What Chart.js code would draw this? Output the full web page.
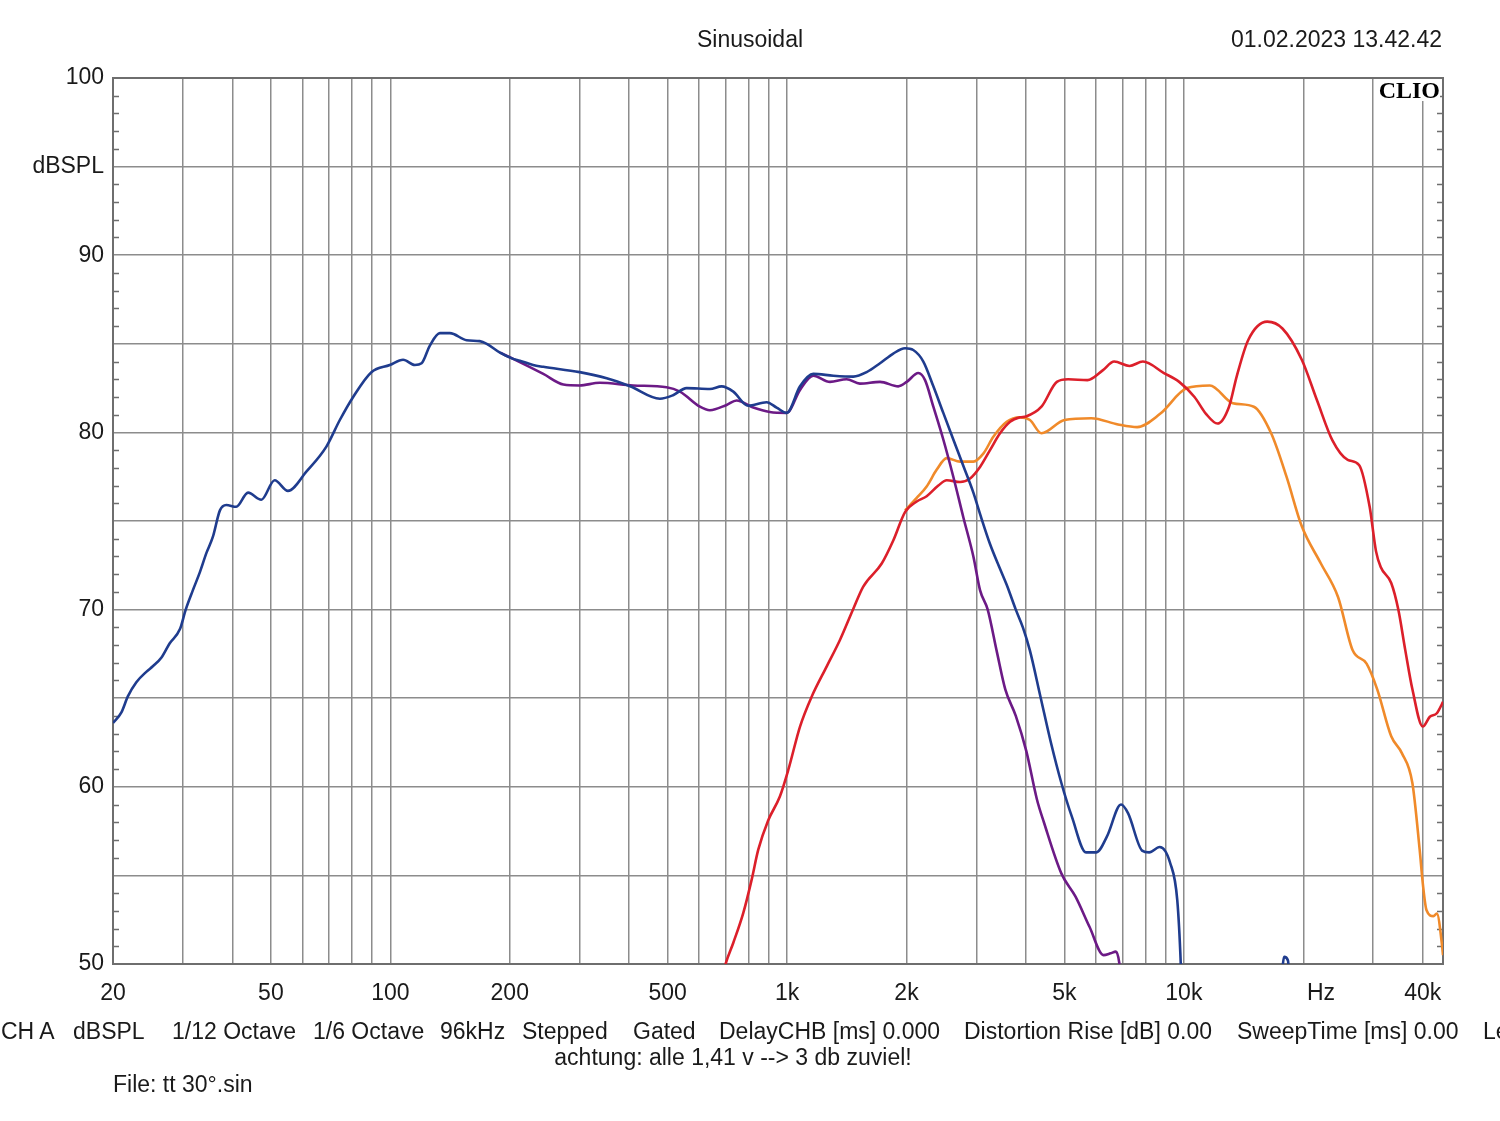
<!DOCTYPE html>
<html>
<head>
<meta charset="utf-8">
<title>Sinusoidal</title>
<script src="https://cdn.jsdelivr.net/npm/chart.js@4/dist/chart.umd.min.js"></script>
<style>
  html, body { margin: 0; padding: 0; background: #fff; }
  body { width: 1500px; height: 1121px; position: relative; overflow: hidden;
         font-family: "Liberation Sans", Arial, sans-serif; color: #1a1a1a; }
  #plot { position: absolute; left: 0; top: 0; }
  .t { position: absolute; font-size: 23px; line-height: 23px; white-space: nowrap; transform: translateY(-50%); }
  .c { transform: translate(-50%, -50%); }
  .r { transform: translate(-100%, -50%); }
  #clio { position: absolute; left: 1376px; top: 79px; width: 64px; height: 22px; background: #fff;
          font-family: "Liberation Serif", "DejaVu Serif", serif; font-weight: bold; font-size: 24px;
          line-height: 22px; text-align: right; color: #000; }
</style>
</head>
<body>
<canvas id="plot" width="1500" height="1121"></canvas>

<!-- header -->
<div class="t c" style="left:750px; top:39px;">Sinusoidal</div>
<div class="t r" style="left:1442px; top:39px;">01.02.2023 13.42.42</div>
<div id="clio">CLIO</div>
<div class="t c" style="left:1321px; top:992px;">Hz</div>

<!-- footer -->
<div class="t" style="left:1px; top:1031px;">CH A</div>
<div class="t" style="left:73px; top:1031px;">dBSPL</div>
<div class="t" style="left:172px; top:1031px;">1/12 Octave</div>
<div class="t" style="left:313px; top:1031px;">1/6 Octave</div>
<div class="t" style="left:440px; top:1031px;">96kHz</div>
<div class="t" style="left:522px; top:1031px;">Stepped</div>
<div class="t" style="left:633px; top:1031px;">Gated</div>
<div class="t" style="left:719px; top:1031px;">DelayCHB [ms] 0.000</div>
<div class="t" style="left:964px; top:1031px;">Distortion Rise [dB] 0.00</div>
<div class="t" style="left:1237px; top:1031px;">SweepTime [ms] 0.00</div>
<div class="t" style="left:1483px; top:1031px;">Le</div>
<div class="t c" style="left:733px; top:1057px;">achtung: alle 1,41 v --&gt; 3 db zuviel!</div>
<div class="t" style="left:113px; top:1084px;">File: tt 30°.sin</div>

<script>
// ==========================================
// Achsen: Gitterlinien und Beschriftungen
// ==========================================
const gridFreqs = [20, 30, 40, 50, 60, 70, 80, 90, 100, 200, 300, 400, 500, 600, 700, 800, 900,
  1000, 2000, 3000, 4000, 5000, 6000, 7000, 8000, 9000, 10000, 20000, 30000, 40000];
const labelFreqs = [20, 50, 100, 200, 500, 1000, 2000, 5000, 10000, 40000];
const labelFreqText = ["20", "50", "100", "200", "500", "1k", "2k", "5k", "10k", "40k"];

const dbGrid = [50, 55, 60, 65, 70, 75, 80, 85, 90, 95, 100];
const labelDb = [50, 60, 70, 80, 90, 95, 100];
const labelDbText = ["50", "60", "70", "80", "90", "dBSPL", "100"];

// ==========================================
// Messkurven (Hz / dBSPL)
// ==========================================
// blau
const blueFreq = [20, 21, 21.8, 22.9, 24.3, 25.2, 26.5, 27.8, 29.5, 30.5, 31.8, 33.1, 34.4, 35.7,
  37.2, 38.6, 40.9, 43.8, 47.3, 51.1, 55.2, 61.5, 69, 74.6, 80.6, 89.6, 99.7, 107.7, 115.3, 119.9,
  125.8, 133.3, 141.3, 155.7, 168, 175, 189, 204, 212, 229, 243, 300, 351, 402, 478, 516, 558, 639,
  684, 732, 798, 888, 941, 998, 1078, 1164, 1308, 1469, 1587, 1715, 1852, 1983, 2080, 2205, 2337,
  2476, 2624, 2782, 2948, 3064, 3247, 3441, 3577, 3771, 3929, 4092, 4350, 4623, 4915, 5224, 5668,
  6022, 6402, 6946, 7238, 7850, 8176, 8694, 9238, 9626, 9824, 9950, 12000, 17400, 17900, 18300, 18600];
const blueDb = [63.6, 64.2, 65.1, 65.9, 66.5, 66.8, 67.3, 68.1, 68.9, 70.0, 71.1, 72.1, 73.2, 74.1,
  75.6, 75.9, 75.8, 76.6, 76.2, 77.3, 76.7, 77.8, 79.2, 80.7, 82.0, 83.4, 83.8, 84.1, 83.8, 83.9,
  84.9, 85.6, 85.6, 85.2, 85.15, 85.0, 84.5, 84.15, 84.05, 83.8, 83.7, 83.4, 83.05, 82.6, 81.9, 82.1, 82.5, 82.45,
  82.6, 82.3, 81.5, 81.7, 81.4, 81.1, 82.6, 83.3, 83.2, 83.15, 83.4, 83.9, 84.45, 84.75, 84.65, 84.0, 82.6,
  81.1, 79.6, 78.1, 76.6, 75.4, 73.7, 72.3, 71.4, 70.0, 69.0, 67.7, 65.1, 62.5, 60.2, 58.3, 56.3,
  56.3, 57.2, 59.0, 58.5, 56.4, 56.3, 56.6, 55.7, 53.6, 50.0, 46, null, 47, 50.4, 50.2, 47];

// violett
const purpleFreq = [189, 204, 243, 273, 300, 337, 409, 497, 537, 603, 639, 704, 746, 822, 905, 998,
  1078, 1164, 1283, 1413, 1526, 1715, 1907, 2002, 2142, 2227, 2337, 2476, 2624, 2782, 2948, 3064,
  3204, 3380, 3548, 3771, 4010, 4262, 4439, 4915, 5334, 5784, 6275, 6535, 6738, 6877, 7000];
const purpleDb = [84.5, 84.15, 83.3, 82.7, 82.65, 82.8, 82.65, 82.55, 82.3, 81.45, 81.25, 81.55, 81.8, 81.4, 81.15, 81.1,
  82.4, 83.2, 82.85, 83.0, 82.75, 82.85, 82.6, 82.85, 83.35, 82.95, 81.45, 79.6, 77.5, 75.2, 73.0, 71.1,
  70.0, 67.6, 65.5, 64.0, 62.0, 59.3, 58.0, 55.1, 53.8, 52.1, 50.5, 50.6, 50.7, 50.05, 48];

// rot
const redFreq = [690, 701, 732, 776, 814, 846, 896, 959, 1007, 1078, 1154, 1259, 1360, 1469, 1556,
  1732, 1852, 1983, 2122, 2248, 2406, 2526, 2729, 2892, 3064, 3247, 3441, 3648, 3866, 4002, 4377,
  4785, 5111, 5716, 6244, 6675, 7296, 7886, 8909, 9735, 10638, 11372, 12158, 13000, 13588, 14522,
  16228, 17746, 19830, 21669, 23688, 25884, 27672, 29400, 30500, 31346, 33320, 34720, 36160, 37680,
  40020, 41690, 43420, 44780, 45000];
const redDb = [49.4, 50.05, 51.2, 52.9, 54.75, 56.45, 58.1, 59.45, 60.95, 63.4, 65.1, 66.8, 68.3, 70.05, 71.3,
  72.6, 73.9, 75.5, 76.1, 76.4, 77.0, 77.3, 77.2, 77.4, 78.05, 79.0, 79.95, 80.6, 80.85, 80.9, 81.45,
  82.85, 83.0, 82.95, 83.5, 84.0, 83.75, 84.0, 83.35, 82.85, 82.0, 81.05, 80.5, 81.45, 83.15, 85.2,
  86.25, 85.85, 84.1, 81.8, 79.55, 78.45, 78.15, 75.8, 73.3, 72.4, 71.5, 70.0, 67.7, 65.5,
  63.4, 63.95, 64.15, 64.7, 64.8];

// orange
const orangeFreq = [1983, 2122, 2248, 2384, 2526, 2729, 2948, 3123, 3310, 3577, 3866, 4094, 4377,
  5000, 5843, 6824, 7626, 8714, 10182, 11632, 13290, 15012, 16600, 18146, 19830, 22153, 24482,
  26640, 28880, 30720, 33320, 35440, 37680, 39300, 40020, 40880, 42570, 43420, 44780, 45000];
const orangeDb = [75.6, 76.3, 76.95, 77.9, 78.55, 78.35, 78.35, 78.8, 79.75, 80.6, 80.85, 80.7, 79.95,
  80.7, 80.8, 80.45, 80.3, 81.05, 82.5, 82.65, 81.65, 81.45, 79.95, 77.5, 74.7, 72.6, 70.7,
  67.7, 66.95, 65.5, 62.85, 61.9, 60.2, 56.45, 54.55, 53.05, 52.7, 52.85, 51.0, 50.5];

// ==========================================
// Hilfsfunktionen
// ==========================================
const FONT = { family: '"Liberation Sans", Arial, sans-serif', size: 23 };
const TEXT = "#1a1a1a";
const GRID = "#8c8c8c";

function toPoints(freqs, dbs) {
  return freqs.map((f, i) => ({ x: f, y: dbs[i] }));
}

function curve(freqs, dbs, color) {
  return {
    data: toPoints(freqs, dbs),
    borderColor: color,
    borderWidth: 2.6,
    pointRadius: 0,
    cubicInterpolationMode: "monotone",
    spanGaps: false,
    clip: 0
  };
}

// Rahmen und kleine dB-Striche am linken/rechten Rand
const framePlugin = {
  id: "frame",
  beforeDatasetsDraw(chart) {
    const { ctx, chartArea: a, scales } = chart;
    ctx.save();
    ctx.strokeStyle = "#6e6e6e";
    ctx.lineWidth = 1.5;
    for (let v = 51; v < 100; v++) {
      if (v % 5 === 0) continue;
      const py = Math.round(scales.y.getPixelForValue(v)) + 0.5;
      ctx.beginPath();
      ctx.moveTo(a.left, py);
      ctx.lineTo(a.left + 6, py);
      ctx.moveTo(a.right - 6, py);
      ctx.lineTo(a.right, py);
      ctx.stroke();
    }
    ctx.lineWidth = 2;
    ctx.strokeRect(a.left, a.top, a.right - a.left, a.bottom - a.top);
    ctx.restore();
  }
};

// ==========================================
// Chart
// ==========================================
new Chart(document.getElementById("plot"), {
  type: "line",
  data: {
    datasets: [
      curve(blueFreq, blueDb, "#1f3c8e"),
      curve(purpleFreq, purpleDb, "#6c1a86"),
      curve(redFreq, redDb, "#dc1f2a"),
      curve(orangeFreq, orangeDb, "#f08a2a")
    ]
  },
  options: {
    responsive: false,
    devicePixelRatio: 1,
    animation: false,
    layout: { padding: { left: 0, right: 57, top: 78, bottom: 107 } },
    plugins: { legend: { display: false }, tooltip: { enabled: false } },
    scales: {
      x: {
        type: "logarithmic",
        min: 20,
        max: 45000,
        afterFit: s => { s.height = 50; },
        afterBuildTicks: s => { s.ticks = gridFreqs.map(v => ({ value: v })); },
        grid: { color: GRID, lineWidth: 1.5, drawTicks: false },
        border: { display: false },
        ticks: {
          autoSkip: false,
          maxRotation: 0,
          minRotation: 0,
          padding: 16,
          font: FONT,
          color: TEXT,
          callback: v => {
            const i = labelFreqs.indexOf(v);
            return i >= 0 ? labelFreqText[i] : "";
          }
        }
      },
      y: {
        min: 50,
        max: 100,
        afterFit: s => { s.width = 113; },
        afterBuildTicks: s => { s.ticks = dbGrid.map(v => ({ value: v })); },
        grid: { color: GRID, lineWidth: 1.5, drawTicks: false },
        border: { display: false },
        ticks: {
          padding: 9,
          font: FONT,
          color: TEXT,
          callback: v => {
            const i = labelDb.indexOf(v);
            return i >= 0 ? labelDbText[i] : "";
          }
        }
      }
    }
  },
  plugins: [framePlugin]
});
</script>
</body>
</html>
